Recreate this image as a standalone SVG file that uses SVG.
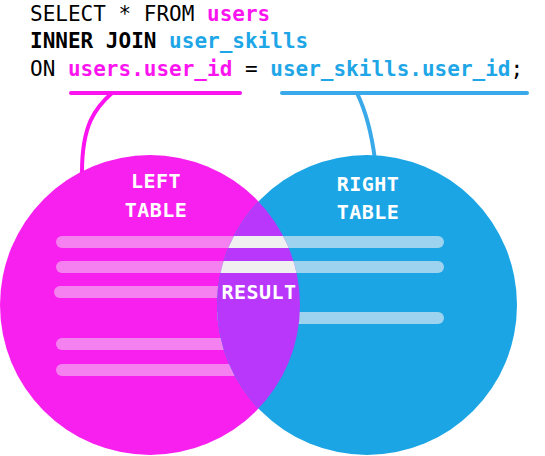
<svg xmlns="http://www.w3.org/2000/svg" width="545" height="456" viewBox="0 0 545 456">
<style>
.code{font-family:"DejaVu Sans Mono","Liberation Mono",monospace;font-size:21px;fill:#000}
.m{fill:#fc14f0;font-weight:bold}
.b{fill:#1ea6e6;font-weight:bold}
.lbl{font-family:"DejaVu Sans Mono","Liberation Mono",monospace;font-size:20px;font-weight:bold;fill:#fff;text-anchor:middle;letter-spacing:0.5px}
.pb{fill:#f580ef}
.bb{fill:#9dd3ee}
.wb{fill:#f0f0f0}
</style>
<defs>
<clipPath id="cl"><circle cx="150" cy="305" r="150"/></clipPath>
<clipPath id="cr"><circle cx="367" cy="305" r="150"/></clipPath>
</defs>
<g id="code">
<text class="code" x="30" y="21">SELECT * FROM <tspan class="m">users</tspan></text>
<text class="code" x="30" y="48"><tspan font-weight="bold">INNER JOIN</tspan> <tspan class="b">user_skills</tspan></text>
<text class="code" x="30" y="76">ON <tspan class="m">users.user_id</tspan> = <tspan class="b">user_skills.user_id</tspan>;</text>
</g>
<g id="connectors" fill="none" stroke-width="4" stroke-linecap="round">
<path d="M71,93 H240" stroke="#fc14f0"/>
<path d="M112,93 C95,108 82,125 82,172" stroke="#fc14f0"/>
<path d="M282,93 H527" stroke="#3aa9ea"/>
<path d="M357,93 Q370,120 375,160" stroke="#3aa9ea"/>
</g>
<g id="left-table">
<circle cx="150" cy="305" r="150" fill="#f820ee"/>
<g clip-path="url(#cl)">
<rect class="pb" x="56" y="236" width="388" height="12" rx="6"/>
<rect class="pb" x="56" y="261" width="388" height="12" rx="6"/>
<rect class="pb" x="54" y="286" width="260" height="12" rx="6"/>
<rect class="pb" x="56" y="338" width="260" height="12" rx="6"/>
<rect class="pb" x="56" y="364" width="260" height="12" rx="6"/>
</g>
<text class="lbl" x="156" y="188">LEFT</text>
<text class="lbl" x="156" y="217">TABLE</text>
</g>
<g id="right-table">
<circle cx="367" cy="305" r="150" fill="#1ba5e5"/>
<g clip-path="url(#cr)">
<rect class="bb" x="56" y="236" width="388" height="12" rx="6"/>
<rect class="bb" x="56" y="261" width="388" height="12" rx="6"/>
<rect class="bb" x="200" y="312" width="244" height="12" rx="6"/>
</g>
<text class="lbl" x="368" y="191">RIGHT</text>
<text class="lbl" x="368" y="219">TABLE</text>
</g>
<g id="result">
<g clip-path="url(#cl)">
<circle cx="367" cy="305" r="150" fill="#b937fb"/>
<g clip-path="url(#cr)">
<rect class="wb" x="56" y="236" width="388" height="12"/>
<rect class="wb" x="56" y="261" width="388" height="12"/>
</g>
</g>
<text class="lbl" x="259" y="299" letter-spacing="0">RESULT</text>
</g>
</svg>
